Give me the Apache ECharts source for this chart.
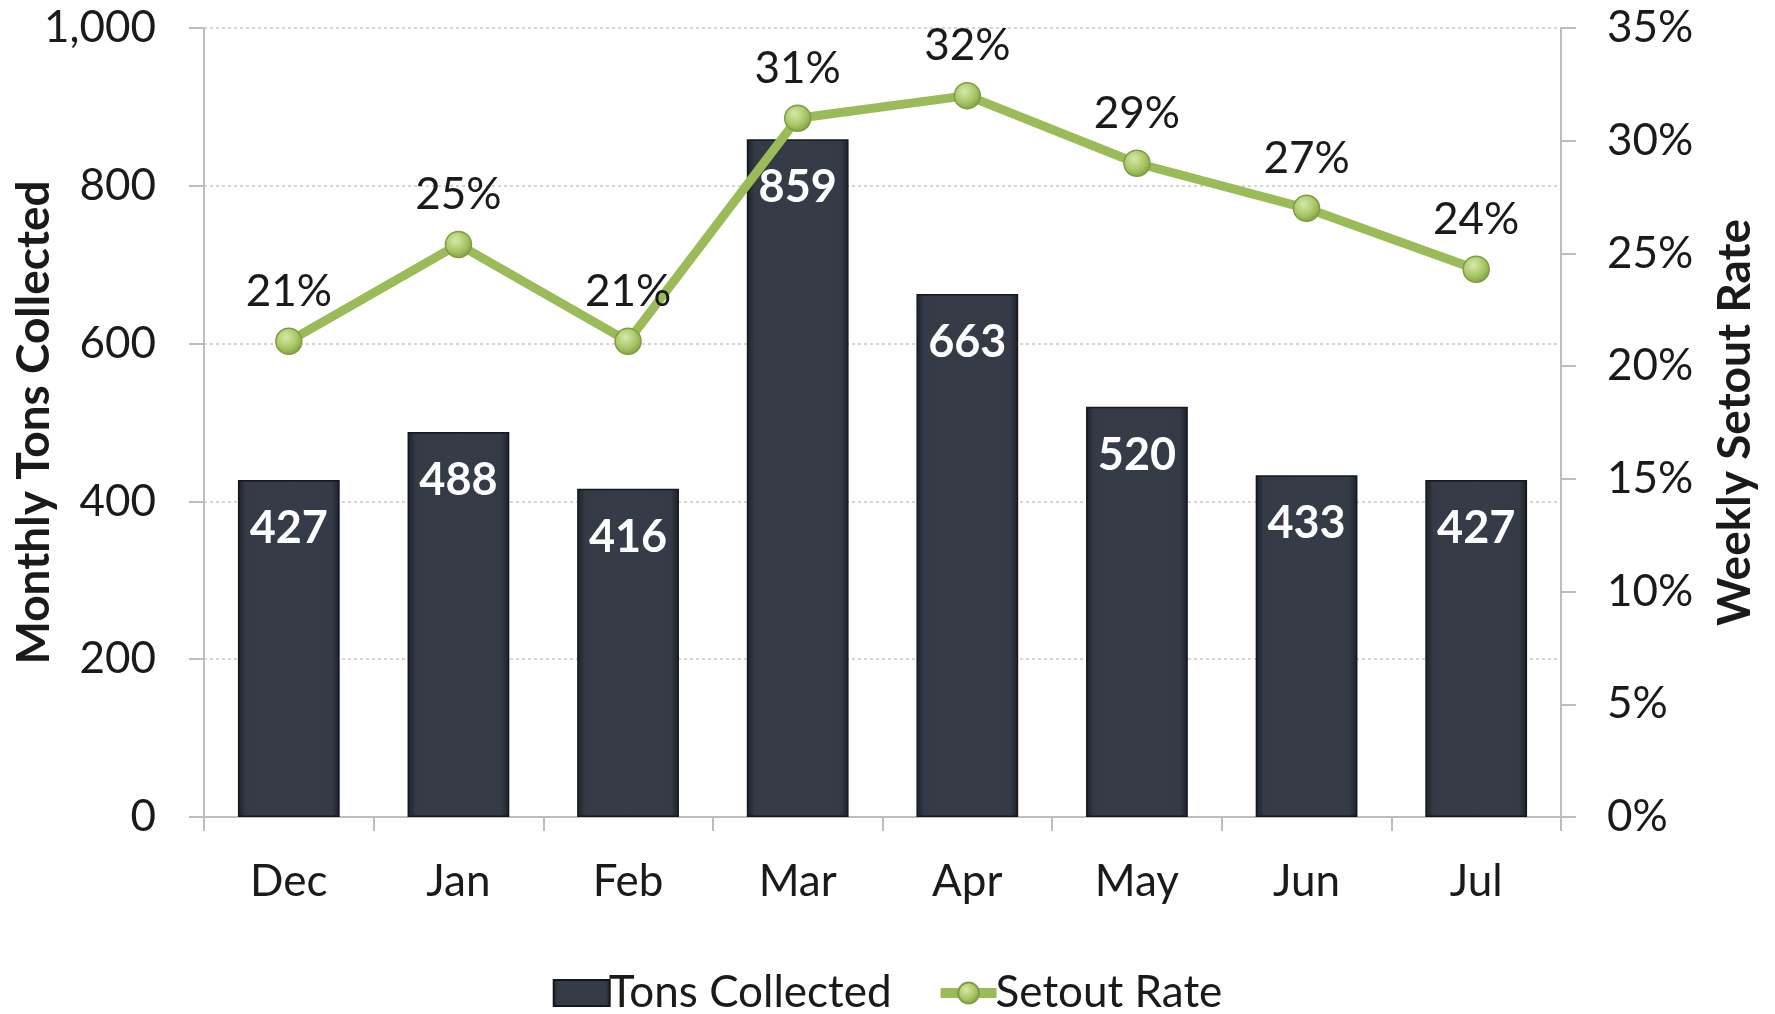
<!DOCTYPE html>
<html><head><meta charset="utf-8">
<script src="https://cdn.jsdelivr.net/npm/echarts@6/dist/echarts.min.js"></script>
<style>html,body{margin:0;padding:0;background:#fff}#c{width:1775px;height:1014px}</style>
</head><body><div id="c"></div>
<script>
const categories = ['Dec','Jan','Feb','Mar','Apr','May','Jun','Jul'];
const tons = [427, 488, 416, 859, 663, 520, 433, 427];
const setoutRate = [0.211, 0.254, 0.211, 0.310, 0.320, 0.290, 0.270, 0.243];
const leftTicks = [0, 200, 400, 600, 800, 1000];
const rightTicks = [0, 0.05, 0.10, 0.15, 0.20, 0.25, 0.30, 0.35];

const FONT = 'Lato, "Open Sans", sans-serif';
const chart = echarts.init(document.getElementById('c'));
const barColor = new echarts.graphic.LinearGradient(0,0,1,0,[
  {offset:0,color:'#1c2129'},{offset:0.08,color:'#343b46'},
  {offset:0.5,color:'#353c47'},{offset:0.92,color:'#343b46'},{offset:1,color:'#1c2129'}]);
const markerColor = new echarts.graphic.RadialGradient(0.4,0.35,0.7,[
  {offset:0,color:'#d6e9a8'},{offset:0.6,color:'#a5c563'},{offset:1,color:'#7d9a3e'}]);
chart.setOption({
  animation:false,
  textStyle:{fontFamily:FONT},
  grid:{left:204,right:214,top:28,bottom:197,containLabel:false,outerBoundsMode:'none'},
  legend:{
    top:966,left:'center',itemWidth:56,itemHeight:26,itemGap:44,
    textStyle:{fontSize:44,color:'#1a1a1a',fontFamily:FONT,padding:[0,0,0,-6]},
    data:[{name:'Tons Collected',icon:'rect'},
          {name:'Setout Rate',lineStyle:{width:10,color:'#9bbb59'}}]
  },
  xAxis:{
    type:'category',data:categories,
    axisLine:{lineStyle:{color:'#bdbdbd',width:2}},
    axisTick:{show:true,length:14,lineStyle:{color:'#bdbdbd',width:2}},
    axisLabel:{fontSize:44,color:'#1a1a1a',margin:43,fontFamily:FONT}
  },
  yAxis:[{
    type:'value',min:0,max:1000,interval:200,
    name:'Monthly Tons Collected',nameLocation:'middle',nameGap:147,nameMoveOverlap:false,
    nameTextStyle:{fontSize:46,fontWeight:'bold',color:'#1a1a1a',fontFamily:FONT},
    axisLine:{show:true,lineStyle:{color:'#bdbdbd',width:2}},
    axisTick:{show:true,length:15,lineStyle:{color:'#bdbdbd',width:2}},
    axisLabel:{fontSize:44,color:'#1a1a1a',margin:48,fontFamily:FONT,
      formatter:v=>v.toLocaleString('en-US')},
    splitLine:{show:true,lineStyle:{color:'#c8c8c8',type:[3,3],width:1.5}}
  },{
    type:'value',min:0,max:0.35,interval:0.05,position:'right',
    name:'Weekly Setout Rate',nameLocation:'middle',nameGap:151,nameMoveOverlap:false,
    nameTextStyle:{fontSize:46,fontWeight:'bold',color:'#1a1a1a',fontFamily:FONT},
    axisLine:{show:true,lineStyle:{color:'#bdbdbd',width:2}},
    axisTick:{show:true,length:15,lineStyle:{color:'#bdbdbd',width:2}},
    axisLabel:{fontSize:44,color:'#1a1a1a',margin:46,align:'left',fontFamily:FONT,
      formatter:v=>Math.round(v*100)+'%'},
    splitLine:{show:false}
  }],
  series:[{
    name:'Tons Collected',type:'bar',data:tons,barWidth:'60%',
    itemStyle:{color:barColor,borderColor:'#14181e',borderWidth:1.5},
    label:{show:true,position:'insideTop',distance:26,color:'#ffffff',fontSize:45,fontWeight:'bold',fontFamily:FONT},
    z:2
  },{
    name:'Setout Rate',type:'line',yAxisIndex:1,data:setoutRate,
    symbol:'circle',symbolSize:26,
    lineStyle:{color:'#9bbb59',width:9},
    itemStyle:{color:markerColor,borderColor:'#7f9c43',borderWidth:1.5},
    label:{show:true,position:'top',distance:14,color:'#1a1a1a',fontSize:44,fontFamily:FONT,
      formatter:p=>Math.round(p.value*100)+'%'},
    z:5
  }]
});
</script></body></html>
